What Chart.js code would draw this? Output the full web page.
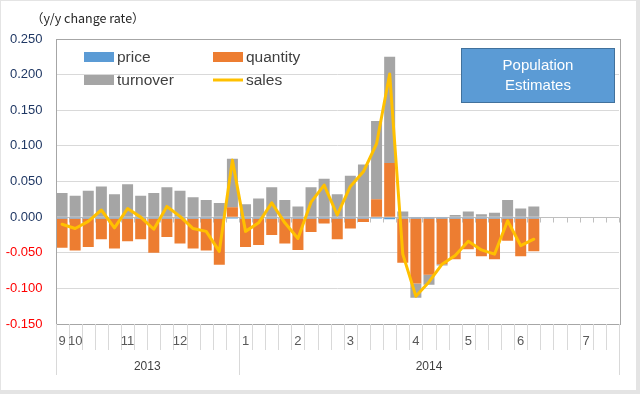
<!DOCTYPE html>
<html>
<head>
<meta charset="utf-8">
<script src="https://cdn.jsdelivr.net/npm/chart.js@4.4.1/dist/chart.umd.min.js"></script>
<style>
  html, body { margin: 0; padding: 0; background: #fff; }
  #wrap { width: 640px; height: 394px; position: relative; }
</style>
</head>
<body>
<div id="wrap"><canvas id="salesChart" width="640" height="394"></canvas></div>
<script>
// month tick labels, one per (weekly) category
const months = ['9', '10', '', '', '', '11', '', '', '', '12', '', '', '', '',
  '1', '', '', '', '2', '', '', '', '3', '', '', '', '',
  '4', '', '', '', '5', '', '', '', '6', '', '', '', '', '7', '', ''];
const yearLabels = ['2013', '2014'];
const yearStarts = [0, 14];

const price = [-0.002, -0.002, -0.002, -0.002, -0.002, -0.002, -0.002, -0.002, -0.002, -0.002,
  -0.002, -0.002, -0.002, -0.002, -0.002, -0.002, -0.002, -0.002, -0.002, -0.002,
  -0.002, -0.002, -0.002, -0.002, -0.002, -0.003, -0.002, -0.002, -0.002, -0.002,
  -0.002, -0.002, -0.002, -0.002, -0.002, -0.002, -0.002];
const quantity = [-0.041, -0.045, -0.040, -0.029, -0.042, -0.032, -0.029, -0.048, -0.026, -0.035,
  -0.042, -0.045, -0.065, 0.014, -0.040, -0.037, -0.023, -0.035, -0.044, -0.019,
  -0.007, -0.029, -0.014, -0.005, 0.025, 0.076, -0.062, -0.091, -0.079, -0.064,
  -0.057, -0.043, -0.053, -0.057, -0.031, -0.053, -0.046];
const turnover = [0.034, 0.030, 0.037, 0.043, 0.032, 0.046, 0.030, 0.034, 0.042, 0.037,
  0.028, 0.024, 0.020, 0.068, 0.018, 0.026, 0.042, 0.024, 0.015, 0.042,
  0.054, 0.032, 0.058, 0.074, 0.110, 0.149, 0.008, -0.020, -0.014, -0.002,
  0.003, 0.008, 0.004, 0.006, 0.024, 0.012, 0.015];
const sales = [-0.010, -0.016, -0.006, 0.010, -0.015, 0.012, 0.000, -0.017, 0.015, 0.001,
  -0.016, -0.020, -0.048, 0.080, -0.020, -0.008, 0.020, -0.008, -0.030, 0.021,
  0.045, 0.003, 0.043, 0.064, 0.103, 0.201, -0.052, -0.111, -0.091, -0.066,
  -0.054, -0.034, -0.046, -0.052, -0.005, -0.040, -0.031];

const FONT = "'Liberation Sans', Arial, sans-serif";

// frame, axis decorations, legend, note box, title
const decorPlugin = {
  id: "decor",
  beforeDraw(chart) {
    const c = chart.ctx;
    c.save();
    c.fillStyle = "#e4e4e4";
    c.fillRect(0, 0, chart.width, chart.height);
    c.fillStyle = "#ffffff";
    c.fillRect(1, 1, 635, 389);
    c.restore();
  },
  beforeDatasetsDraw(chart) {
    const c = chart.ctx;
    const x = chart.scales.x;
    const y0 = Math.round(chart.scales.y.getPixelForValue(0)) + 0.5;
    const step = x.width / months.length;
    c.save();
    c.strokeStyle = "#bfbfbf";
    c.lineWidth = 1;
    for (let i = 0; i <= months.length; i++) {
      const px = Math.round(x.left + i * step) + 0.5;
      c.beginPath();
      c.moveTo(px, y0);
      c.lineTo(px, y0 + 5);
      c.stroke();
    }
    c.restore();
  },
  afterDraw(chart) {
    const c = chart.ctx;
    const area = chart.chartArea;
    const x = chart.scales.x;
    const step = x.width / months.length;
    c.save();

    // plot border
    c.strokeStyle = "#a6a6a6";
    c.lineWidth = 1;
    c.strokeRect(Math.round(area.left) + 0.5, Math.round(area.top) + 0.5,
      Math.round(area.width), Math.round(area.height));

    // category separators below the plot
    c.strokeStyle = "#d9d9d9";
    for (let i = 0; i <= months.length; i++) {
      const px = Math.round(x.left + i * step) + 0.5;
      const isYear = yearStarts.includes(i) || i === months.length;
      c.beginPath();
      c.moveTo(px, area.bottom);
      c.lineTo(px, isYear ? 375 : 350);
      c.stroke();
    }

    // month labels
    c.fillStyle = "#595959";
    c.font = "13px " + FONT;
    c.textAlign = "center";
    c.textBaseline = "middle";
    months.forEach((m, i) => {
      if (m) c.fillText(m, x.getPixelForValue(i), 341);
    });

    // year labels
    c.fillStyle = "#404040";
    c.font = "12px " + FONT;
    yearLabels.forEach((yl, k) => {
      const from = yearStarts[k];
      const to = k + 1 < yearStarts.length ? yearStarts[k + 1] : months.length;
      c.fillText(yl, x.left + ((from + to) / 2) * step, 367);
    });

    // legend
    const ds = chart.data.datasets;
    const cols = [84, 213];
    const rows = [57, 80];
    const slots = [[0, 0], [1, 0], [0, 1], [1, 1]];
    c.font = "15.5px " + FONT;
    c.textAlign = "left";
    ds.forEach((d, i) => {
      const lx = cols[slots[i][0]];
      const ly = rows[slots[i][1]];
      if (d.type === "line") {
        c.strokeStyle = d.borderColor;
        c.lineWidth = 3;
        c.beginPath();
        c.moveTo(lx, ly);
        c.lineTo(lx + 30, ly);
        c.stroke();
      } else {
        c.fillStyle = d.backgroundColor;
        c.fillRect(lx, ly - 5, 30, 10);
      }
      c.fillStyle = "#404040";
      c.fillText(d.label, lx + 33, ly + 1);
    });

    // note box
    c.fillStyle = "#5b9bd5";
    c.fillRect(461, 48, 154, 55);
    c.strokeStyle = "#41719c";
    c.lineWidth = 1;
    c.strokeRect(461.5, 48.5, 153, 54);
    c.fillStyle = "#ffffff";
    c.font = "15px " + FONT;
    c.textAlign = "center";
    c.fillText("Population", 538, 66);
    c.fillText("Estimates", 538, 86);

    // axis title
    c.fillStyle = "#262626";
    c.font = "12.5px 'Noto Sans CJK JP', " + FONT;
    c.textAlign = "left";
    c.fillText("（y/y change rate）", 31, 18);
    c.restore();
  },
};

const chartData = {
  type: "bar",
  data: {
    labels: months,
    datasets: [
      {
        label: "price",
        data: price,
        backgroundColor: "#5b9bd5",
        stack: "s",
        order: 1,
      },
      {
        label: "quantity",
        data: quantity,
        backgroundColor: "#ed7d31",
        stack: "s",
        order: 1,
      },
      {
        label: "turnover",
        data: turnover,
        backgroundColor: "#a5a5a5",
        stack: "s",
        order: 1,
      },
      {
        type: "line",
        label: "sales",
        data: sales,
        borderColor: "#ffc000",
        backgroundColor: "#ffc000",
        borderWidth: 3,
        borderJoinStyle: "round",
        borderCapStyle: "round",
        pointRadius: 0,
        tension: 0,
        order: 0,
      },
    ],
  },
  options: {
    responsive: false,
    animation: false,
    layout: {
      padding: { top: 39, right: 21, bottom: 70, left: 0 },
    },
    datasets: {
      bar: { categoryPercentage: 1, barPercentage: 0.84 },
    },
    plugins: {
      legend: false,
      tooltip: { enabled: false },
    },
    scales: {
      x: {
        display: false,
        stacked: true,
      },
      y: {
        stacked: true,
        min: -0.15,
        max: 0.25,
        afterFit: (scale) => {
          scale.width = 55.5;
        },
        border: { display: false },
        grid: {
          drawTicks: false,
          color: (ctx) => (Math.abs(ctx.tick.value) < 1e-9 ? "#bfbfbf" : "#d9d9d9"),
        },
        ticks: {
          stepSize: 0.05,
          padding: 13,
          font: { size: 13, family: FONT },
          color: (ctx) => (ctx.tick.value < -1e-9 ? "#ff0000" : "#203864"),
          callback: (v) => Number(v).toFixed(3),
        },
      },
    },
  },
  plugins: [decorPlugin],
};

var salesChart = new Chart(document.getElementById("salesChart"), chartData);
</script>
</body>
</html>
